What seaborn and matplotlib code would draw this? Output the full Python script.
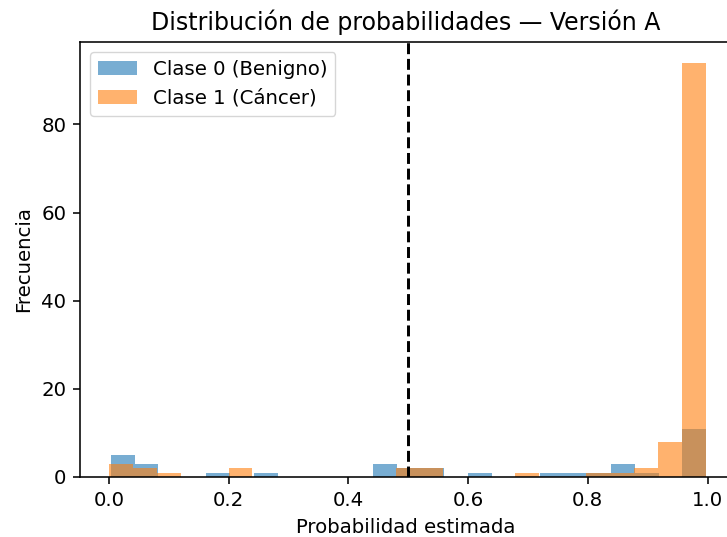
import numpy as np
import pandas as pd
import matplotlib
matplotlib.use("Agg")
import matplotlib.pyplot as plt
import seaborn as sns

# Histogram counts per bin (25 bins each)
n_bins = 25
range_benigno = (0.003, 0.998)
range_cancer = (0.0005, 0.997)
counts_benigno = [5, 3, 0, 0, 1, 0, 1, 0, 0, 0, 0, 3, 2, 2, 0, 1, 0, 0, 1, 1, 1, 3, 1, 0, 11]
counts_cancer = [3, 2, 1, 0, 0, 2, 0, 0, 0, 0, 0, 0, 2, 2, 0, 0, 0, 1, 0, 0, 1, 1, 2, 8, 94]
labels = ["Clase 0 (Benigno)", "Clase 1 (Cáncer)"]
threshold = 0.5

s = 1.42  # scale factor of the reference rendering
plt.rcParams.update({
    "font.size": 10 * s,
    "axes.linewidth": 0.8 * s,
    "xtick.major.size": 3.5 * s,
    "ytick.major.size": 3.5 * s,
    "xtick.major.width": 0.8 * s,
    "ytick.major.width": 0.8 * s,
    "xtick.major.pad": 3.5 * s,
    "ytick.major.pad": 3.5 * s,
    "axes.labelpad": 4 * s,
    "axes.titlepad": 6 * s,
})


def centers(rng, n):
    edges = np.linspace(rng[0], rng[1], n + 1)
    return (edges[:-1] + edges[1:]) / 2


# The reference is cropped on the right: the axes extend past the image edge
fig = plt.figure(figsize=(7.27, 5.37), dpi=100)
ax_left_px, ax_right_px = 80, 760
ax = fig.add_axes([ax_left_px / 727, 1 - 477 / 537,
                   (ax_right_px - ax_left_px) / 727, 435 / 537])

pal = sns.color_palette("tab10")
sns.histplot(x=centers(range_benigno, n_bins), weights=counts_benigno, bins=n_bins,
             binrange=range_benigno, color=pal[0], alpha=0.6, linewidth=0,
             label=labels[0], ax=ax)
sns.histplot(x=centers(range_cancer, n_bins), weights=counts_cancer, bins=n_bins,
             binrange=range_cancer, color=pal[1], alpha=0.6, linewidth=0,
             label=labels[1], ax=ax)
ax.axvline(threshold, color="black", linestyle="--", linewidth=1.5 * s)

px_per_unit = 598.5
x0_px = 109
ax.set_xlim((ax_left_px - x0_px) / px_per_unit, (ax_right_px - x0_px) / px_per_unit)
ax.set_xticks([0.0, 0.2, 0.4, 0.6, 0.8, 1.0])
ax.set_ylim(0, 94 * 1.05)
ax.set_title("Distribución de probabilidades — Versión A", fontsize=12 * s,
             x=(406 - ax_left_px) / (ax_right_px - ax_left_px))
ax.set_xlabel("Probabilidad estimada",
              x=(406 - ax_left_px) / (ax_right_px - ax_left_px))
ax.set_ylabel("Frecuencia")
ax.legend(loc="upper left")

fig.savefig("out.png", dpi=100)
